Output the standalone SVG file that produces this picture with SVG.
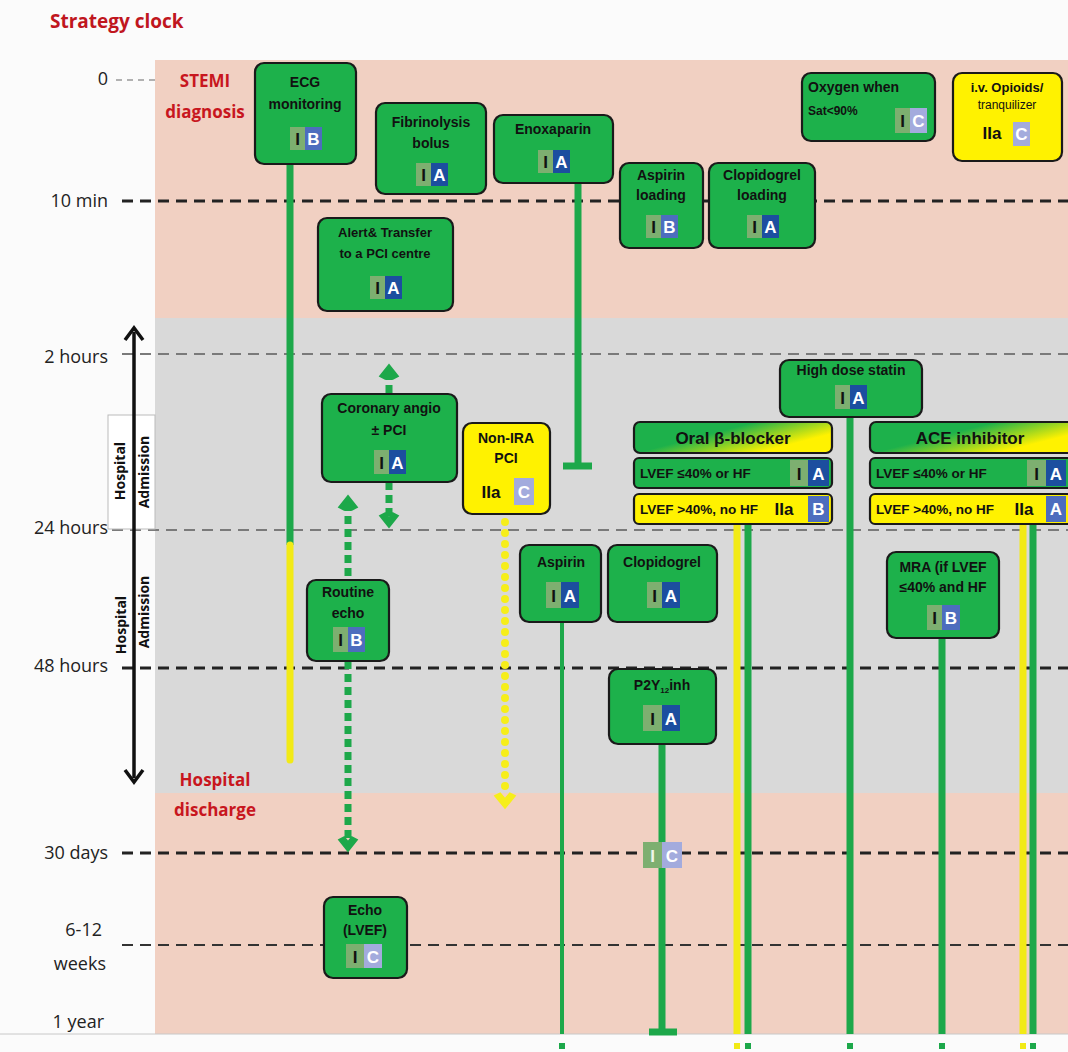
<svg xmlns="http://www.w3.org/2000/svg" width="1068" height="1052" viewBox="0 0 1068 1052">
<defs>
<style>
.node{fill:#1DB14B;stroke:#1a1a1a;stroke-width:2.2}
.ynode{fill:#FFF200;stroke:#1a1a1a;stroke-width:2.2}
.nt{font-family:"Liberation Sans Narrow","Liberation Sans",Arial,sans-serif;font-size:14px;font-weight:bold;fill:#111;text-anchor:middle}
.rt{font-family:"Liberation Sans Narrow","Liberation Sans",Arial,sans-serif;font-size:13.5px;font-weight:bold;fill:#111}
.ht{font-family:"Liberation Sans Narrow","Liberation Sans",Arial,sans-serif;font-size:17px;font-weight:bold;fill:#111;text-anchor:middle}
.bI{fill:#7DAF70}
.bA{fill:#1C4E9F}
.bB{fill:#4D6DBE}
.bC{fill:#A3ABDD}
.tI{font-family:"Liberation Sans",Arial,sans-serif;font-size:17px;font-weight:bold;fill:#111;text-anchor:middle}
.tL{font-family:"Liberation Sans",Arial,sans-serif;font-size:17px;font-weight:bold;fill:#fff;text-anchor:middle}
.tIIa{font-family:"Liberation Sans",Arial,sans-serif;font-size:17px;font-weight:bold;fill:#111;text-anchor:middle}
.ax{font-family:"Open Sans","Liberation Sans",sans-serif;font-size:18px;fill:#222;text-anchor:end}
.red{font-family:"Open Sans","Liberation Sans",sans-serif;font-size:17px;font-weight:bold;fill:#C8161E;text-anchor:middle}
.vt{font-family:"Open Sans","Liberation Sans",sans-serif;font-size:14px;font-weight:bold;fill:#111;text-anchor:middle}
.dk{stroke:#222;stroke-width:3;stroke-dasharray:11 7;fill:none}
.gy{stroke:#7a7a7a;stroke-width:2.2;stroke-dasharray:11 7;fill:none}
.gl{stroke:#1DA84A;stroke-width:7;fill:none}
.yl{stroke:#F2EA16;stroke-width:7;fill:none}
.gdot{stroke:#1DA84A;stroke-width:7;stroke-dasharray:8 5;fill:none}
.ydot{stroke:#F6EE1A;stroke-width:8;stroke-dasharray:0 11;stroke-linecap:round;fill:none}
</style>
<linearGradient id="hdr" x1="0" y1="0" x2="1" y2="0.6">
<stop offset="0" stop-color="#1DB14B"/>
<stop offset="0.45" stop-color="#1DB14B"/>
<stop offset="0.9" stop-color="#FFF200"/>
<stop offset="1" stop-color="#FFF200"/>
</linearGradient>
</defs>

<!-- background -->
<rect x="0" y="0" width="1068" height="1052" fill="#FBFBFB"/>
<rect x="155" y="60" width="913" height="258" fill="#F1D0C2"/>
<rect x="155" y="318" width="913" height="475" fill="#D9D9D9"/>
<rect x="155" y="793" width="913" height="241" fill="#F1D0C2"/>
<line x1="0" y1="1034" x2="1068" y2="1034" stroke="#c8c8c8" stroke-width="1"/>

<text x="50" y="28" font-family="Open Sans, Liberation Sans, sans-serif" font-size="19" font-weight="bold" fill="#C0161E">Strategy clock</text>

<!-- axis labels -->
<g id="axis">
<text class="ax" x="108" y="85">0</text>
<text class="ax" x="108" y="207">10 min</text>
<text class="ax" x="108" y="363">2 hours</text>
<text class="ax" x="108" y="534">24 hours</text>
<text class="ax" x="108" y="672">48 hours</text>
<text class="ax" x="108" y="859">30 days</text>
<text class="ax" x="102" y="936">6-12</text>
<text class="ax" x="106" y="970">weeks</text>
<text class="ax" x="104" y="1028">1 year</text>
<line x1="116" y1="80" x2="155" y2="80" stroke="#999" stroke-width="1.5" stroke-dasharray="6 5"/>
<line class="dk" x1="122" y1="201" x2="1068" y2="201"/>
<line class="gy" x1="122" y1="354" x2="1068" y2="354"/>
<line class="gy" x1="112" y1="530" x2="1068" y2="530"/>
<line class="dk" x1="122" y1="668" x2="1068" y2="668"/>
<line class="dk" x1="122" y1="853" x2="1068" y2="853"/>
<line x1="122" y1="945" x2="1068" y2="945" stroke="#333" stroke-width="2" stroke-dasharray="11 7"/>
<rect x="108" y="415" width="47" height="114" fill="#fff" stroke="#bbb" stroke-width="1"/>
<line x1="134" y1="332" x2="134" y2="778" stroke="#111" stroke-width="3.5"/>
<path d="M125 340 L134 328 L143 340" fill="none" stroke="#111" stroke-width="3.5"/>
<path d="M125 770 L134 782 L143 770" fill="none" stroke="#111" stroke-width="3.5"/>
<text class="vt" transform="translate(125 471) rotate(-90)">Hospital</text>
<text class="vt" transform="translate(149 472) rotate(-90)" font-weight="normal">Admission</text>
<text class="vt" transform="translate(126 625) rotate(-90)">Hospital</text>
<text class="vt" transform="translate(149 612) rotate(-90)">Admission</text>
<text class="red" x="205" y="87">STEMI</text>
<text class="red" x="205" y="118" font-weight="normal">diagnosis</text>
<text class="red" x="215" y="786">Hospital</text>
<text class="red" x="215" y="816">discharge</text>
</g>

<!-- connectors -->
<g id="connectors">
<line class="gl" x1="290" y1="165" x2="290" y2="545"/>
<line class="yl" x1="290" y1="545" x2="290" y2="760" stroke-linecap="round"/>
<line class="gl" x1="578" y1="183" x2="578" y2="466"/>
<line x1="563" y1="466" x2="592" y2="466" stroke="#1DA84A" stroke-width="7"/>
<line class="gdot" x1="389" y1="372" x2="389" y2="393"/>
<line class="gdot" x1="389" y1="482" x2="389" y2="520"/>
<path d="M381 376 L389 366 L397 376 L393 378 L389 373 L385 378 Z" fill="#1DA84A" stroke="#1DA84A" stroke-width="3"/>
<path d="M381 516 L389 526 L397 516 L393 514 L389 519 L385 514 Z" fill="#1DA84A" stroke="#1DA84A" stroke-width="3"/>
<line class="gdot" x1="348" y1="503" x2="348" y2="580"/>
<path d="M340 507 L348 497 L356 507 L352 509 L348 504 L344 509 Z" fill="#1DA84A" stroke="#1DA84A" stroke-width="3"/>
<line class="gdot" x1="348" y1="661" x2="348" y2="840"/>
<path d="M340 840 L348 850 L356 840 L352 838 L348 843 L344 838 Z" fill="#1DA84A" stroke="#1DA84A" stroke-width="3"/>
<line class="ydot" x1="505" y1="522" x2="505" y2="790"/>
<path d="M496 796 L505 807 L514 796 L510 794 L505 800 L500 794 Z" fill="#F6EE1A" stroke="#F6EE1A" stroke-width="3"/>
<line x1="562" y1="622" x2="562" y2="1034" stroke="#1DA84A" stroke-width="4"/>
<line class="gl" x1="662" y1="744" x2="662" y2="1032"/>
<line x1="649" y1="1032" x2="677" y2="1032" stroke="#1DA84A" stroke-width="7"/>
<line class="yl" x1="737" y1="524" x2="737" y2="1034" stroke-width="5"/>
<line class="gl" x1="748" y1="524" x2="748" y2="1034" stroke-width="6"/>
<line class="gl" x1="850" y1="417" x2="850" y2="1034" stroke-width="6"/>
<line class="gl" x1="942" y1="638" x2="942" y2="1034" stroke-width="5"/>
<line class="yl" x1="1023" y1="524" x2="1023" y2="1034" stroke-width="5"/>
<line class="gl" x1="1033" y1="524" x2="1033" y2="1034" stroke-width="5"/>
<g fill="#1DA84A">
<rect x="559" y="1043" width="6" height="6"/>
<rect x="745" y="1043" width="6" height="6"/>
<rect x="847" y="1043" width="6" height="6"/>
<rect x="939" y="1043" width="6" height="6"/>
<rect x="1030" y="1043" width="6" height="6"/>
</g>
<g fill="#F2EA16">
<rect x="734" y="1043" width="6" height="6"/>
<rect x="1020" y="1043" width="6" height="6"/>
</g>
<g id="badge-p2y12-30d">
<rect class="bI" x="643" y="842" width="19" height="26"/>
<rect class="bC" x="662" y="842" width="20" height="26"/>
<text class="tI" x="652.5" y="862" style="fill:#eef5e8">I</text>
<text class="tL" x="672" y="862">C</text>
</g>
</g>

<!-- nodes -->
<g id="ecg">
<rect class="node" x="255" y="63" width="101" height="101" rx="9"/>
<text class="nt" x="305" y="87">ECG</text>
<text class="nt" x="305" y="109">monitoring</text>
<rect class="bI" x="290" y="127" width="15" height="23"/><rect class="bB" x="305" y="127" width="17" height="23"/>
<text class="tI" x="297.5" y="145">I</text><text class="tL" x="313.5" y="145">B</text>
</g>

<g id="fibrinolysis">
<rect class="node" x="376" y="103" width="110" height="91" rx="9"/>
<text class="nt" x="431" y="127">Fibrinolysis</text>
<text class="nt" x="431" y="148">bolus</text>
<rect class="bI" x="416" y="163" width="15" height="23"/><rect class="bA" x="431" y="163" width="17" height="23"/>
<text class="tI" x="423.5" y="181">I</text><text class="tL" x="439.5" y="181">A</text>
</g>

<g id="enoxaparin">
<rect class="node" x="494" y="115" width="119" height="68" rx="9"/>
<text class="nt" x="553" y="134">Enoxaparin</text>
<rect class="bI" x="538" y="150" width="15" height="23"/><rect class="bA" x="553" y="150" width="17" height="23"/>
<text class="tI" x="545.5" y="168">I</text><text class="tL" x="561.5" y="168">A</text>
</g>

<g id="aspirin-loading">
<rect class="node" x="620" y="163" width="83" height="85" rx="9"/>
<text class="nt" x="661" y="180">Aspirin</text>
<text class="nt" x="661" y="200">loading</text>
<rect class="bI" x="646" y="215" width="15" height="23"/><rect class="bB" x="661" y="215" width="17" height="23"/>
<text class="tI" x="653.5" y="233">I</text><text class="tL" x="669.5" y="233">B</text>
</g>

<g id="clopidogrel-loading">
<rect class="node" x="709" y="163" width="106" height="85" rx="9"/>
<text class="nt" x="762" y="180">Clopidogrel</text>
<text class="nt" x="762" y="200">loading</text>
<rect class="bI" x="747" y="215" width="15" height="23"/><rect class="bA" x="762" y="215" width="17" height="23"/>
<text class="tI" x="754.5" y="233">I</text><text class="tL" x="770.5" y="233">A</text>
</g>

<g id="oxygen">
<rect class="node" x="802" y="73" width="133" height="68" rx="9"/>
<text class="nt" x="808" y="92" style="text-anchor:start">Oxygen when</text>
<text class="nt" x="808" y="115" style="text-anchor:start;font-size:12px">Sat&lt;90%</text>
<rect class="bI" x="895" y="108" width="15" height="25"/><rect class="bC" x="910" y="108" width="17" height="25"/>
<text class="tI" x="902.5" y="127">I</text><text class="tL" x="918.5" y="127">C</text>
</g>

<g id="opioids">
<rect class="ynode" x="953" y="73" width="109" height="88" rx="9"/>
<text class="nt" x="1007" y="92" style="font-size:13px">i.v. Opioids/</text>
<text class="nt" x="1007" y="109" style="font-size:12px;font-weight:normal">tranquilizer</text>
<text class="tIIa" x="992" y="139">IIa</text>
<rect class="bC" x="1013" y="122" width="17" height="24"/>
<text class="tL" x="1021.5" y="140">C</text>
</g>

<g id="alert-transfer">
<rect class="node" x="318" y="218" width="135" height="93" rx="9"/>
<text class="nt" x="385" y="237" style="font-size:13px">Alert&amp; Transfer</text>
<text class="nt" x="385" y="258" style="font-size:13px">to a PCI centre</text>
<rect class="bI" x="370" y="276" width="15" height="23"/><rect class="bA" x="385" y="276" width="17" height="23"/>
<text class="tI" x="377.5" y="294">I</text><text class="tL" x="393.5" y="294">A</text>
</g>

<g id="coronary-angio">
<rect class="node" x="322" y="394" width="135" height="88" rx="9"/>
<text class="nt" x="389" y="413">Coronary angio</text>
<text class="nt" x="389" y="435">± PCI</text>
<rect class="bI" x="374" y="450" width="15" height="24"/><rect class="bA" x="389" y="450" width="17" height="24"/>
<text class="tI" x="381.5" y="469">I</text><text class="tL" x="397.5" y="469">A</text>
</g>

<g id="non-ira-pci">
<rect class="ynode" x="463" y="423" width="87" height="91" rx="9"/>
<text class="nt" x="506" y="443">Non-IRA</text>
<text class="nt" x="506" y="463">PCI</text>
<text class="tIIa" x="491" y="498">IIa</text>
<rect class="bC" x="514" y="478" width="20" height="27"/>
<text class="tL" x="524" y="498">C</text>
</g>

<g id="statin">
<rect class="node" x="780" y="360" width="142" height="57" rx="9"/>
<text class="nt" x="851" y="375">High dose statin</text>
<rect class="bI" x="835" y="385" width="15" height="24"/><rect class="bA" x="850" y="385" width="17" height="24"/>
<text class="tI" x="842.5" y="404">I</text><text class="tL" x="858.5" y="404">A</text>
</g>

<g id="beta-blocker">
<rect x="634" y="422" width="198" height="31" rx="6" fill="url(#hdr)" stroke="#1a1a1a" stroke-width="2.2"/>
<text class="ht" x="733" y="444">Oral β-blocker</text>
<rect class="node" x="634" y="458" width="198" height="30" rx="5"/>
<text class="rt" x="640" y="478">LVEF ≤40% or HF</text>
<rect class="bI" x="790" y="460" width="18" height="26"/><rect class="bA" x="808" y="460" width="21" height="26"/>
<text class="tI" x="799" y="480">I</text><text class="tL" x="818.5" y="480">A</text>
<rect class="ynode" x="634" y="494" width="198" height="30" rx="5"/>
<text class="rt" x="640" y="514">LVEF &gt;40%, no HF</text>
<text class="tIIa" x="784" y="515">IIa</text>
<rect class="bB" x="808" y="496" width="21" height="26"/>
<text class="tL" x="818.5" y="515">B</text>
</g>

<g id="ace-inhibitor">
<rect x="870" y="422" width="205" height="31" rx="6" fill="url(#hdr)" stroke="#1a1a1a" stroke-width="2.2"/>
<text class="ht" x="970" y="444">ACE inhibitor</text>
<rect class="node" x="870" y="458" width="205" height="30" rx="5"/>
<text class="rt" x="876" y="478">LVEF ≤40% or HF</text>
<rect class="bI" x="1027" y="460" width="19" height="26"/><rect class="bA" x="1046" y="460" width="20" height="26"/>
<text class="tI" x="1036.5" y="480">I</text><text class="tL" x="1056" y="480">A</text>
<rect class="ynode" x="870" y="494" width="205" height="30" rx="5"/>
<text class="rt" x="876" y="514">LVEF &gt;40%, no HF</text>
<text class="tIIa" x="1024" y="515">IIa</text>
<rect class="bB" x="1046" y="496" width="20" height="26"/>
<text class="tL" x="1056" y="515">A</text>
</g>

<g id="routine-echo">
<rect class="node" x="307" y="580" width="82" height="81" rx="9"/>
<text class="nt" x="348" y="597">Routine</text>
<text class="nt" x="348" y="618">echo</text>
<rect class="bI" x="333" y="627" width="15" height="25"/><rect class="bB" x="348" y="627" width="17" height="25"/>
<text class="tI" x="340.5" y="646">I</text><text class="tL" x="356.5" y="646">B</text>
</g>

<g id="aspirin">
<rect class="node" x="520" y="545" width="81" height="77" rx="9"/>
<text class="nt" x="561" y="567">Aspirin</text>
<rect class="bI" x="546" y="582" width="15" height="26"/><rect class="bA" x="561" y="582" width="18" height="26"/>
<text class="tI" x="553.5" y="602">I</text><text class="tL" x="570" y="602">A</text>
</g>

<g id="clopidogrel">
<rect class="node" x="608" y="545" width="109" height="77" rx="9"/>
<text class="nt" x="662" y="567">Clopidogrel</text>
<rect class="bI" x="647" y="582" width="15" height="26"/><rect class="bA" x="662" y="582" width="18" height="26"/>
<text class="tI" x="654.5" y="602">I</text><text class="tL" x="671" y="602">A</text>
</g>

<g id="mra">
<rect class="node" x="887" y="552" width="112" height="86" rx="9"/>
<text class="nt" x="943" y="572">MRA (if LVEF</text>
<text class="nt" x="943" y="592">≤40% and HF</text>
<rect class="bI" x="927" y="605" width="15" height="25"/><rect class="bB" x="942" y="605" width="18" height="25"/>
<text class="tI" x="934.5" y="624">I</text><text class="tL" x="951" y="624">B</text>
</g>

<g id="p2y12">
<rect class="node" x="609" y="669" width="107" height="75" rx="9"/>
<text class="nt" x="662" y="690">P2Y<tspan font-size="8" dy="3">12</tspan><tspan dy="-3">inh</tspan></text>
<rect class="bI" x="643" y="705" width="19" height="26"/><rect class="bA" x="662" y="705" width="18" height="26"/>
<text class="tI" x="652.5" y="725">I</text><text class="tL" x="671" y="725">A</text>
</g>

<g id="echo-lvef">
<rect class="node" x="324" y="897" width="83" height="81" rx="9"/>
<text class="nt" x="365" y="915">Echo</text>
<text class="nt" x="365" y="935">(LVEF)</text>
<rect class="bI" x="346" y="944" width="18" height="24"/><rect class="bC" x="364" y="944" width="18" height="24"/>
<text class="tI" x="355" y="963">I</text><text class="tL" x="373" y="963">C</text>
</g>
</svg>
